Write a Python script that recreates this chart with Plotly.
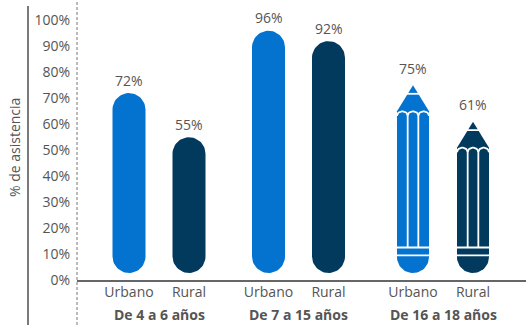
import numpy as np
import plotly.graph_objects as go

# ---------------- data ----------------
groups = ["De 4 a 6 años", "De 7 a 15 años", "De 16 a 18 años"]
areas = ["Urbano", "Rural"]
urbano = [72, 96, 75]
rural = [55, 92, 61]
y_ticks = [0, 10, 20, 30, 40, 50, 60, 70, 80, 90, 100]
y_tick_labels = [f"{v}%" for v in y_ticks]
y_title = "% de asistencia"

# ---------------- layout constants ----------------
W, H = 526, 325
ML, MR, MT, MB = 77, 0, 10, 45
PLOT_W = W - ML - MR
PLOT_H = H - MT - MB
X_RANGE = [0, PLOT_W]
Y_RANGE = [0, 104]
PX_X = PLOT_W / (X_RANGE[1] - X_RANGE[0])
PX_Y = PLOT_H / (Y_RANGE[1] - Y_RANGE[0])


def dx(px):
    return px / PX_X


def dy(px):
    return px / PX_Y


def paper_y(ypx):
    return (MT + PLOT_H - ypx) / PLOT_H


def paper_x(xpx):
    return (xpx - ML) / PLOT_W


GROUP_X = [82, 221.5, 366]
OFFSET = 30
BAR_W = 33
PENCIL_W = 32
BASE = dy(7)
COL_URB = "#0373CF"
COL_RUR = "#023A5D"
TXT = "#555555"
FONT = "Open Sans"
COLORS = [COL_URB, COL_RUR]
SERIES = [urbano, rural]
SIGN = [-1, 1]

fig = go.Figure()

# ---------- rounded bars (first two groups) ----------
for a in range(2):
    xs_all, ys_all = [], []
    for gi in range(2):
        xc = GROUP_X[gi] + SIGN[a] * OFFSET
        v = SERIES[a][gi]
        hw = dx(BAR_W / 2)
        r = BAR_W / 2
        t = np.linspace(0, np.pi, 30)
        top_x = xc + hw * np.cos(t)
        top_y = (v - dy(r)) + dy(r * np.sin(t))
        bot_x = xc - hw * np.cos(t)
        bot_y = (BASE + dy(r)) - dy(r * np.sin(t))
        xs_all += list(top_x) + list(bot_x) + [top_x[0], None]
        ys_all += list(top_y) + list(bot_y) + [top_y[0], None]
    fig.add_trace(go.Scatter(x=xs_all, y=ys_all, mode="lines", fill="toself",
                             fillcolor=COLORS[a], line=dict(width=0, color=COLORS[a]),
                             hoverinfo="skip", showlegend=False))

# ---------- pencils (third group) ----------
g = 2
for a in range(2):
    xc = GROUP_X[g] + SIGN[a] * OFFSET
    v = SERIES[a][g]
    hw = dx(PENCIL_W / 2)
    xl, xr = xc - hw, xc + hw
    y_cb = v - dy(26)
    r_px = PENCIL_W / 2
    y_bs = BASE + dy(r_px)
    t = np.linspace(0, np.pi, 30)
    arc_x = xc + hw * np.cos(t)
    arc_y = y_bs - dy(r_px * np.sin(t))
    px_ = [xc, xr, xr] + list(arc_x) + [xl, xl, xc]
    py_ = [v, y_cb, y_bs] + list(arc_y) + [y_bs, y_cb, v]
    fig.add_trace(go.Scatter(x=px_, y=py_, mode="lines", fill="toself",
                             fillcolor=COLORS[a], line=dict(width=0, color=COLORS[a]),
                             hoverinfo="skip", showlegend=False))
    lx, ly = [], []
    sep_y = v - dy(8.5)
    sep_hw = hw * 8.5 / 26 + dx(1)
    lx += [xc - sep_hw, xc + sep_hw, None]
    ly += [sep_y, sep_y, None]
    cw = 2 * hw / 3
    arc_h = dy(4.5)
    tt = np.linspace(0, np.pi, 16)
    for c in range(3):
        x0 = xl + c * cw
        lx += list(x0 + cw / 2 * (1 - np.cos(tt))) + [None]
        ly += list(y_cb - arc_h + arc_h * np.sin(tt)) + [None]
    band_top = dy(32.5)
    band_bot = dy(24.7)
    for yy in (band_top, band_bot):
        lx += [xl - dx(1), xr + dx(1), None]
        ly += [yy, yy, None]
    for c in (1, 2):
        x0 = xl + c * cw
        lx += [x0, x0, None]
        ly += [y_cb - arc_h, band_top, None]
    fig.add_trace(go.Scatter(x=lx, y=ly, mode="lines",
                             line=dict(color="white", width=1.8),
                             hoverinfo="skip", showlegend=False))

# ---------- value labels ----------
for a in range(2):
    for gi in range(3):
        fig.add_annotation(x=GROUP_X[gi] + SIGN[a] * OFFSET, y=SERIES[a][gi],
                           text=f"{SERIES[a][gi]}%", showarrow=False,
                           yanchor="middle", yshift=13 if gi < 2 else 17,
                           font=dict(family=FONT, size=14, color=TXT))

# ---------- group labels ----------
for gi, name in enumerate(groups):
    fig.add_annotation(x=GROUP_X[gi], y=paper_y(314.5),
                       xref="x", yref="paper", text=f"<b>{name}</b>", showarrow=False,
                       yanchor="middle",
                       font=dict(family=FONT, size=14, color=TXT))

# y title
fig.add_annotation(x=paper_x(14), y=paper_y(148), xanchor="center", yanchor="middle",
                   xref="paper", yref="paper", text=y_title, textangle=-90,
                   showarrow=False, font=dict(family=FONT, size=14, color=TXT))

# decorative axis lines
fig.add_shape(type="line", xref="paper", yref="paper",
              x0=paper_x(28), x1=paper_x(28), y0=paper_y(H), y1=paper_y(6),
              line=dict(color="#7a7a7a", width=2))
fig.add_shape(type="line", xref="paper", yref="paper", x0=0, x1=0,
              y0=paper_y(H), y1=paper_y(0),
              line=dict(color="#777777", width=1, dash="3px,2px"))

tick_x = [GROUP_X[gi] + SIGN[a] * OFFSET for gi in range(3) for a in range(2)]
tick_t = [areas[a] for gi in range(3) for a in range(2)]

fig.update_layout(
    width=W, height=H, margin=dict(l=ML, r=MR, t=MT, b=MB, autoexpand=False),
    plot_bgcolor="white", paper_bgcolor="white",
    showlegend=False,
    xaxis=dict(range=X_RANGE, showgrid=False, zeroline=False, showline=True,
               linecolor="#666666", linewidth=1.5, tickvals=tick_x, ticktext=tick_t,
               ticks="", ticklabelstandoff=-2,
               tickfont=dict(family=FONT, size=14, color=TXT),
               fixedrange=True, automargin=False),
    yaxis=dict(range=Y_RANGE, showgrid=False, zeroline=False, showline=False,
               tickvals=y_ticks, ticktext=y_tick_labels, ticks="",
               ticklabelstandoff=6, automargin=False,
               tickfont=dict(family=FONT, size=14, color=TXT), fixedrange=True),
)

fig.write_html("out.html", config={"displayModeBar": False},
               post_script="document.body.style.margin='0';")
